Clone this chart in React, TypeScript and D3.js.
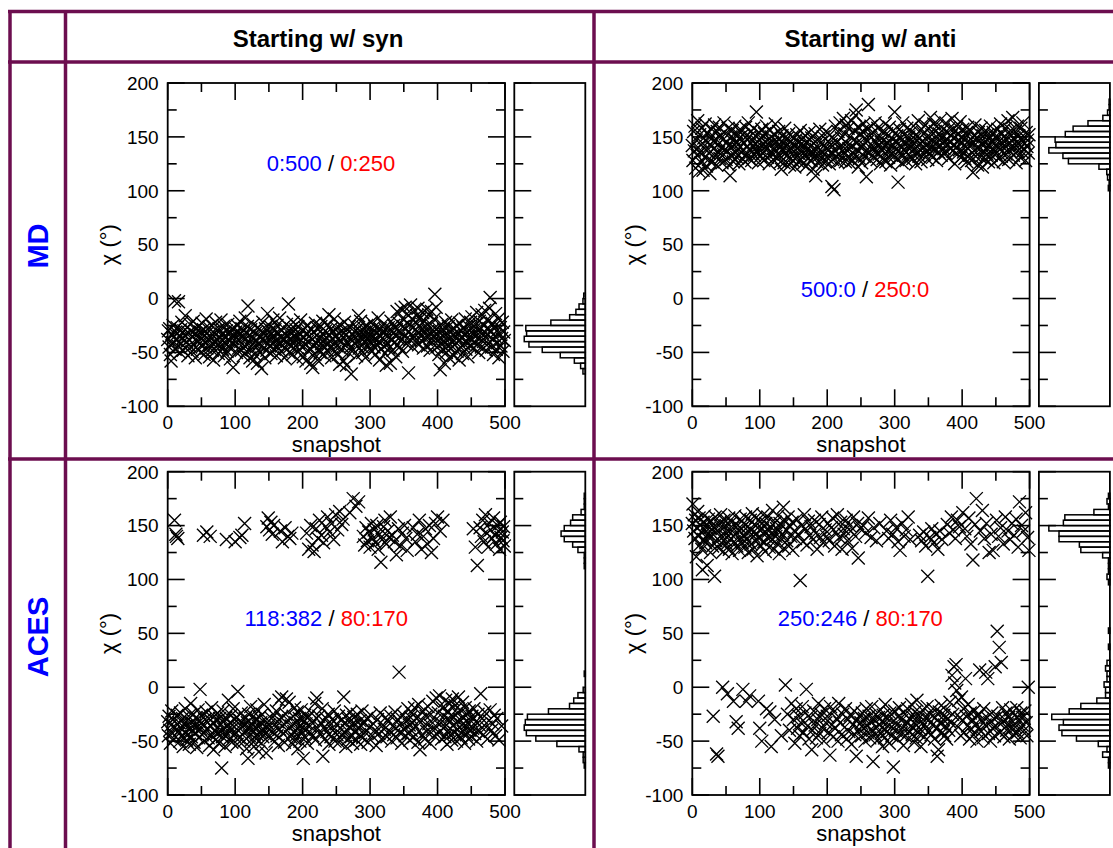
import React, { useEffect, useRef } from "react";
import * as d3 from "d3";

// column / row headings and axis ticks
const columnTitles = ["Starting w/ syn", "Starting w/ anti"];
const rowTitles = ["MD", "ACES"];
const snapshotTicks = [0, 100, 200, 300, 400, 500];
const snapshotMinor = [50, 150, 250, 350, 450];
const chiTicks = [-100, -50, 0, 50, 100, 150, 200];
const chiMinor = [-75, -25, 25, 75, 125, 175];

// chi (deg) for snapshot 0..499
const mdSyn = [
  -38,-30,-45,-28,-52,-58,-33,-41,-25,-36,-2,-47,-31,-39,-27,-44,-3,-35,-50,-29,-42,-22,-37,-48,-30,
  -34,-16,-46,-40,-27,-53,-32,-38,-24,-45,-30,-49,-36,-21,-43,-33,-55,-28,-39,-47,-26,-35,-42,-31,-50,
  -37,-23,-44,-29,-52,-34,-40,-19,-46,-32,-38,-27,-54,-36,-43,-25,-48,-31,-57,-35,-41,-22,-45,-30,-39,
  -51,-28,-36,-44,-20,-33,-47,-39,-26,-53,-35,-42,-30,-49,-24,-38,-45,-32,-56,-29,-41,-37,-64,-34,-27,
  -43,-31,-50,-25,-38,-46,-33,-21,-40,-48,-28,-35,-53,-30,-44,-18,-37,-49,-26,-7,-42,-34,-55,-29,-47,
  -36,-58,-24,-41,-52,-32,-45,-39,-60,-27,-43,-35,-50,-30,-65,-38,-22,-46,-33,-55,-28,-40,-48,-14,-36,
  -31,-44,-26,-51,-37,-42,-20,-34,-47,-29,-39,-53,-25,-45,-32,-41,-18,-36,-49,-30,-43,-27,-38,-55,-33,
  -46,-24,-40,-35,-5,-50,-31,-44,-28,-38,-52,-22,-42,-34,-47,-29,-37,-56,-26,-41,-33,-48,-20,-39,-45,
  -30,-54,-36,-27,-43,-58,-32,-40,-25,-49,-35,-46,-60,-29,-38,-64,-31,-44,-52,-23,-41,-34,-57,-28,-47,
  -37,-50,-26,-42,-33,-21,-45,-39,-53,-30,-36,-48,-24,-41,-15,-34,-46,-28,-55,-38,-31,-43,-19,-49,-35,
  -27,-44,-38,-52,-32,-61,-25,-40,-47,-30,-36,-58,-22,-43,-34,-62,-29,-41,-50,-26,-37,-45,-70,-33,-39,
  -48,-24,-35,-42,-30,-53,-28,-39,-16,-46,-33,-21,-44,-37,-50,-27,-40,-31,-55,-35,-25,-43,-38,-29,-47,
  -34,-41,-22,-49,-36,-30,-45,-26,-52,-38,-32,-43,-18,-40,-57,-28,-35,-47,-31,-24,-44,-38,-51,-29,-62,
  -33,-42,-27,-46,-36,-60,-21,-39,-30,-48,-25,-41,-34,-54,-29,-12,-43,-37,-23,-45,-31,-10,-38,-49,-26,
  -20,-35,-8,-28,-42,-14,-31,-69,-24,-38,-6,-33,-19,-45,-27,-11,-36,-22,-40,-16,-30,-9,-43,-25,-34,
  -18,-39,-28,-13,-46,-32,-21,-37,-26,-10,-44,-30,-15,-35,-48,-24,-12,-41,-29,-36,-19,4,-33,-8,-45,
  -27,-38,-52,-31,-66,-42,-24,-47,-35,-29,-60,-40,-22,-50,-33,-44,-26,-55,-37,-30,-46,-20,-41,-34,-53,
  -28,-43,-36,-25,-49,-32,-39,-57,-23,-45,-30,-37,-51,-27,-42,-34,-19,-47,-31,-40,-54,-26,-36,-44,-22,
  -38,-17,-33,-46,-29,-41,-24,-35,-13,-43,-30,-50,-21,-37,-27,-45,-15,-32,-40,-25,-11,-36,-48,-20,-34,
  -42,-28,-9,1,-31,-45,-23,-38,-52,-26,-35,-14,-47,-30,-41,-19,-55,-33,-27,-44,-37,-22,-49,-31,-39,
];

const mdAnti = [
  142,128,155,137,160,121,147,133,165,140,118,152,136,126,158,144,119,149,131,162,138,123,154,145,129,
  135,116,150,141,157,127,146,139,161,132,148,124,155,143,136,159,130,151,140,126,147,134,163,138,153,
  129,145,137,158,124,142,114,150,133,156,141,127,148,160,135,144,131,153,139,125,149,157,136,146,130,
  152,138,144,127,159,134,148,141,163,130,150,137,155,128,146,142,158,133,139,151,173,136,145,126,154,
  140,132,149,157,135,144,128,153,141,138,160,131,147,143,125,156,137,150,134,145,129,152,139,162,136,
  146,130,142,155,133,148,127,120,151,139,144,126,158,135,141,132,149,137,153,124,145,130,139,150,128,
  143,136,122,147,131,152,140,127,145,134,156,129,138,148,125,142,133,151,137,123,146,139,130,154,135,
  141,128,149,136,120,144,132,153,114,138,147,126,140,133,157,129,145,137,124,150,134,142,127,155,139,
  131,146,138,125,152,135,143,104,129,148,101,137,160,132,145,127,155,140,134,163,128,149,142,137,167,
  136,153,127,161,144,131,158,139,126,150,134,165,141,128,147,156,133,170,175,138,145,122,159,130,152,
  140,126,155,143,162,132,149,137,113,157,146,180,135,151,128,160,142,138,154,131,147,163,136,144,129,
  158,141,134,150,125,145,138,155,130,147,142,162,127,153,136,144,131,159,139,124,149,135,143,156,132,
  173,146,138,151,129,108,144,157,135,149,140,126,163,133,152,137,145,128,158,141,134,150,139,147,131,
  155,143,130,160,138,148,125,152,141,136,165,132,149,144,127,157,139,146,153,134,161,142,137,150,129,
  158,145,135,168,140,152,131,147,162,138,155,143,128,160,149,136,153,141,166,133,150,144,157,139,146,
  135,163,148,142,154,130,158,145,139,151,167,137,149,143,125,156,140,160,134,152,146,138,164,131,150,
  144,157,136,148,130,153,141,127,159,139,146,133,155,142,128,150,117,145,137,161,132,149,140,124,154,
  138,147,131,158,143,122,151,136,145,129,156,140,134,152,127,148,142,160,133,146,138,154,126,144,150,
  135,149,141,157,130,146,138,162,132,153,144,127,150,139,158,134,147,143,165,129,152,137,156,141,146,
  168,133,149,140,155,126,145,160,137,151,142,131,158,147,136,163,139,150,144,128,154,141,147,135,152,
];

const acesSyn = [
  -32,-45,-27,-40,-52,-35,-22,-43,-30,-48,155,-37,142,140,-26,138,-41,-33,-50,-24,-38,-46,-29,-55,-34,
  -42,-20,-36,-49,-31,-44,-27,-53,-38,-15,-46,-33,-40,-25,-51,-35,-43,-28,-56,-37,-21,-47,-32,-2,-39,
  -26,-44,-35,141,-50,-30,-41,-23,144,-38,-47,-29,-54,140,-36,-19,-45,-33,-58,-27,-40,-49,-31,-43,-24,
  -37,-52,-29,-41,-34,-75,-46,-22,-39,-31,-55,-28,137,-44,-36,-12,-48,-33,-40,-26,-51,-35,-20,-45,-30,
  135,-42,-28,-53,-4,-37,-47,139,-31,-24,141,-44,-35,-50,152,-29,-40,-57,-33,-66,-25,-45,-38,-18,-49,
  -34,-42,-27,-55,-37,-30,-48,-21,-44,-36,-60,-28,-41,-33,-52,-25,-46,-39,-16,-43,-31,-61,149,-38,157,
  -35,146,-47,153,-29,142,-42,150,-26,-50,-37,-22,-45,-32,-54,-12,-39,145,-28,-9,135,-43,-34,-51,148,
  -25,-11,-40,140,-31,-14,138,-46,-36,143,-53,-27,-41,-19,-48,-33,-44,-23,-57,-38,-29,-50,-35,-21,-43,
  -30,-66,-39,-26,-47,-34,143,-52,-28,128,-41,-36,150,-24,132,-45,-31,126,-15,-49,147,-10,-38,138,-27,
  155,-43,-33,141,-20,-64,134,-37,-48,149,-29,-41,158,-25,-53,144,-35,-46,152,-30,-40,137,-22,-50,160,
  -34,-44,146,-27,-51,163,-38,-31,151,-45,156,-9,-42,-33,-55,-26,-40,-48,-30,-37,162,-23,-46,-35,-52,
  175,-28,-41,-34,168,-49,-25,-38,172,-44,-31,-53,-36,-22,-47,140,-33,132,-42,148,-29,136,-51,144,-37,
  130,-26,152,-45,138,-34,146,-40,134,-54,150,-30,128,-43,142,-24,116,-48,137,-35,149,-39,155,-28,133,
  -46,145,-32,139,-41,158,-27,-50,141,-36,-44,135,-23,-38,123,-47,-30,147,14,-42,131,-34,-52,143,-26,
  -39,150,-45,138,-31,127,-20,-43,-35,-49,-28,-40,-24,-33,148,-46,-19,135,-37,-29,142,-51,-16,155,-58,
  -30,128,-44,-22,140,-36,-48,147,-27,-41,133,-18,-34,150,-52,-25,125,-39,-13,138,-45,-31,152,-10,-37,
  158,-24,-42,-8,145,-33,-48,-19,155,-38,-27,-46,-12,-35,-53,-22,-40,-30,-15,-44,-26,-49,-11,-36,-28,
  -42,-17,-33,-50,-24,-39,-9,-45,-30,-21,-47,-35,-14,-41,-28,-52,-19,-37,-44,-25,-33,-48,-22,-40,-31,
  -46,-27,-38,147,-20,-43,130,-32,-50,113,-25,-41,-35,148,-6,140,-29,155,-44,135,-23,160,-37,143,-48,
  130,-31,152,-21,146,-40,138,-34,157,-26,141,-45,133,-29,150,145,-49,128,153,139,-36,144,136,149,131,
];

const acesAnti = [
  152,170,145,160,138,155,121,148,163,140,157,132,150,144,128,109,153,137,159,146,134,151,113,142,156,
  139,148,125,154,143,131,-27,149,103,158,136,-62,145,-64,129,152,140,160,134,147,0,126,155,141,137,
  150,133,-6,146,157,128,143,138,153,124,148,-13,135,159,142,-32,131,150,-38,145,127,156,139,147,134,
  -2,152,141,130,158,-13,137,149,125,144,-8,155,133,146,161,128,140,151,136,157,143,122,148,-13,138,
  -38,154,131,-50,147,160,135,144,126,152,-20,139,158,145,130,-23,149,-55,137,164,142,128,-30,153,140,
  147,133,159,145,124,152,138,-45,150,142,167,129,155,2,146,136,-25,158,131,-40,149,140,-15,153,127,
  -30,145,-52,138,-20,156,-38,142,-27,-45,99,-33,150,-18,135,-42,160,-24,147,-2,132,-36,154,-48,141,
  -28,149,-58,-40,137,-22,155,-35,143,-47,128,-30,-15,151,-43,139,-25,158,-38,134,-50,-20,146,-33,140,
  -27,152,-42,136,-63,-18,148,-35,157,-46,-23,131,-38,144,-29,160,-50,-15,139,-33,153,-44,128,-25,147,
  142,-37,-20,155,-48,136,-30,-41,150,-26,145,-53,129,-35,158,-22,-44,140,-64,-31,152,120,-39,-27,147,
  -33,-45,-24,150,-38,-29,-50,143,-20,-36,-42,157,-27,-47,-32,139,-18,-40,-69,148,-30,-44,-25,136,-37,
  -49,-28,-35,152,-21,-43,-32,-55,-26,-39,-47,-16,-34,145,-41,-29,138,-52,-24,155,-37,-45,142,-74,-31,
  -22,-40,148,-35,-48,135,-27,-19,127,-43,-31,152,-38,-54,140,-25,-45,146,-33,-20,158,-41,-29,137,-36,
  -16,-44,-28,-38,-51,-23,-34,-47,-12,-30,-42,-26,141,-39,-55,136,-21,-33,144,-46,-28,131,-37,-18,103,
  -41,-30,139,-25,-44,147,-35,-20,134,-48,-28,142,-38,-64,128,-58,-23,145,-34,-17,137,-42,-30,-26,-45,
  -36,-21,-48,151,-29,-40,143,-14,-33,158,11,-25,146,19,4,138,21,-3,155,-37,-12,149,-28,-45,-9,
  -31,162,-20,-42,147,8,-27,140,-36,-16,157,-48,-24,133,-39,-30,118,-44,-22,151,-34,175,-50,-27,-38,
  -25,16,145,-41,-31,164,-47,-20,138,-35,14,152,-28,8,-43,125,-33,-50,142,-24,-38,127,-29,-45,19,
  -36,155,52,-27,140,37,-42,148,23,-33,-19,133,-46,-30,158,-24,-40,-35,145,-28,-48,137,-21,-38,152,
  -32,-44,141,-26,-37,156,-19,-42,130,-30,172,-47,-24,150,-35,-28,145,-40,-22,162,-33,-45,139,0,127,
];

// counts written inside each panel: blue part / red part
const ratioBlue = ["0:500", "500:0", "118:382", "250:246"];
const ratioRed = ["0:250", "250:0", "80:170", "80:170"];

const FONT = "'Liberation Sans', Arial, Helvetica, sans-serif";
const GRID = "#6c0e4f";

export default function App() {
  const ref = useRef<SVGSVGElement>(null);

  useEffect(() => {
    const svg = d3.select(ref.current);
    svg.selectAll("*").remove();
    const W = 1113, H = 848;

    // table grid
    const grid = svg.append("g").attr("stroke", GRID).attr("stroke-width", 3.5);
    [11.5, 62, 459].forEach((y) => grid.append("line").attr("x1", 8).attr("x2", W).attr("y1", y).attr("y2", y));
    [10, 65.5, 594].forEach((x) => grid.append("line").attr("x1", x).attr("x2", x).attr("y1", 10).attr("y2", H));

    const headX = [318, 870.5];
    columnTitles.forEach((t, i) => {
      svg.append("text").attr("x", headX[i]).attr("y", 47).attr("text-anchor", "middle")
        .attr("font-family", FONT).attr("font-weight", "bold").attr("font-size", 24).text(t);
    });
    const rowY = [246, 637];
    rowTitles.forEach((t, i) => {
      svg.append("text").attr("transform", `translate(48,${rowY[i]}) rotate(-90)`)
        .attr("text-anchor", "middle").attr("fill", "#0000ff")
        .attr("font-family", FONT).attr("font-weight", "bold").attr("font-size", 29).text(t);
    });

    const panels = [
      { data: mdSyn, left: 167.7, top: 83 },
      { data: mdAnti, left: 692.3, top: 83 },
      { data: acesSyn, left: 167.7, top: 471.7 },
      { data: acesAnti, left: 692.3, top: 471.7 },
    ];
    const labelPos = [[242, 118], [256, 1], [235, 57], [249, 57]];
    const plotW = 337.3, plotH = 323.3, histW = 71, gap = 9.3;
    const cross = "M-6.5,-6.5L6.5,6.5M-6.5,6.5L6.5,-6.5";

    panels.forEach((p, pi) => {
      const x = d3.scaleLinear().domain([0, 500]).range([p.left, p.left + plotW]);
      const y = d3.scaleLinear().domain([-100, 200]).range([p.top + plotH, p.top]);
      const g = svg.append("g").attr("font-family", FONT);

      // points
      g.append("g").attr("fill", "none").attr("stroke", "#000").attr("stroke-width", 1.35)
        .selectAll("path").data(p.data).enter().append("path")
        .attr("transform", (d, i) => `translate(${x(i)},${y(d)})`).attr("d", cross);

      // frame + inward ticks on all sides
      const x0 = p.left, x1 = p.left + plotW, y0 = p.top, y1 = p.top + plotH;
      g.append("rect").attr("x", x0).attr("y", y0).attr("width", plotW).attr("height", plotH)
        .attr("fill", "none").attr("stroke", "#000").attr("stroke-width", 1.8);
      const tk = g.append("g").attr("stroke", "#000").attr("stroke-width", 1.6);
      const yt = (v: number, len: number) => {
        tk.append("line").attr("x1", x0).attr("x2", x0 + len).attr("y1", y(v)).attr("y2", y(v));
        tk.append("line").attr("x1", x1).attr("x2", x1 - len).attr("y1", y(v)).attr("y2", y(v));
      };
      const xt = (v: number, len: number) => {
        tk.append("line").attr("x1", x(v)).attr("x2", x(v)).attr("y1", y1).attr("y2", y1 - len);
        tk.append("line").attr("x1", x(v)).attr("x2", x(v)).attr("y1", y0).attr("y2", y0 + len);
      };
      chiTicks.forEach((v) => yt(v, 17));
      chiMinor.forEach((v) => yt(v, 9));
      snapshotTicks.forEach((v) => xt(v, 17));
      snapshotMinor.forEach((v) => xt(v, 9));

      chiTicks.forEach((v) => {
        g.append("text").attr("x", x0 - 9).attr("y", y(v)).attr("dy", "0.36em")
          .attr("text-anchor", "end").attr("font-size", 19).text(v);
      });
      snapshotTicks.forEach((v) => {
        g.append("text").attr("x", x(v)).attr("y", y1 + 23)
          .attr("text-anchor", "middle").attr("font-size", 19).text(v);
      });
      g.append("text").attr("x", (x0 + x1) / 2).attr("y", y1 + 46)
        .attr("text-anchor", "middle").attr("font-size", 22).text("snapshot");
      g.append("text").attr("transform", `translate(${x0 - 51.7},${(y0 + y1) / 2}) rotate(-90)`)
        .attr("text-anchor", "middle").attr("font-size", 22).text("χ (°)");

      // ratio annotation
      const lab = g.append("text").attr("x", x(labelPos[pi][0])).attr("y", y(labelPos[pi][1]))
        .attr("text-anchor", "middle").attr("font-size", 22);
      lab.append("tspan").attr("fill", "#0000ff").text(ratioBlue[pi]);
      lab.append("tspan").attr("fill", "#000").text(" / ");
      lab.append("tspan").attr("fill", "#ff0000").text(ratioRed[pi]);

      // side histogram
      const hl = x1 + gap, hr = hl + histW;
      const bins = d3.bin().domain([-100, 200]).thresholds(d3.range(-100, 200, 5))(p.data);
      const hx = d3.scaleLinear().domain([0, (d3.max(bins, (b) => b.length) || 1) / 0.86]).range([0, histW]);
      g.append("g").attr("fill", "none").attr("stroke", "#000").attr("stroke-width", 1.5)
        .selectAll("rect").data(bins.filter((b) => b.length > 0)).enter().append("rect")
        .attr("x", (b) => hr - hx(b.length)).attr("width", (b) => hx(b.length))
        .attr("y", (b) => y(b.x1 as number)).attr("height", (b) => y(b.x0 as number) - y(b.x1 as number));
      g.append("rect").attr("x", hl).attr("y", y0).attr("width", histW).attr("height", plotH)
        .attr("fill", "none").attr("stroke", "#000").attr("stroke-width", 1.8);
      chiTicks.forEach((v) => tk.append("line").attr("x1", hl).attr("x2", hl + 17).attr("y1", y(v)).attr("y2", y(v)));
      chiMinor.forEach((v) => tk.append("line").attr("x1", hl).attr("x2", hl + 9).attr("y1", y(v)).attr("y2", y(v)));
    });
  }, []);

  return (
    <div style={{ position: "absolute", left: 0, top: 0 }}>
      <svg ref={ref} width={1113} height={848} style={{ display: "block", background: "#fff" }} />
    </div>
  );
}
